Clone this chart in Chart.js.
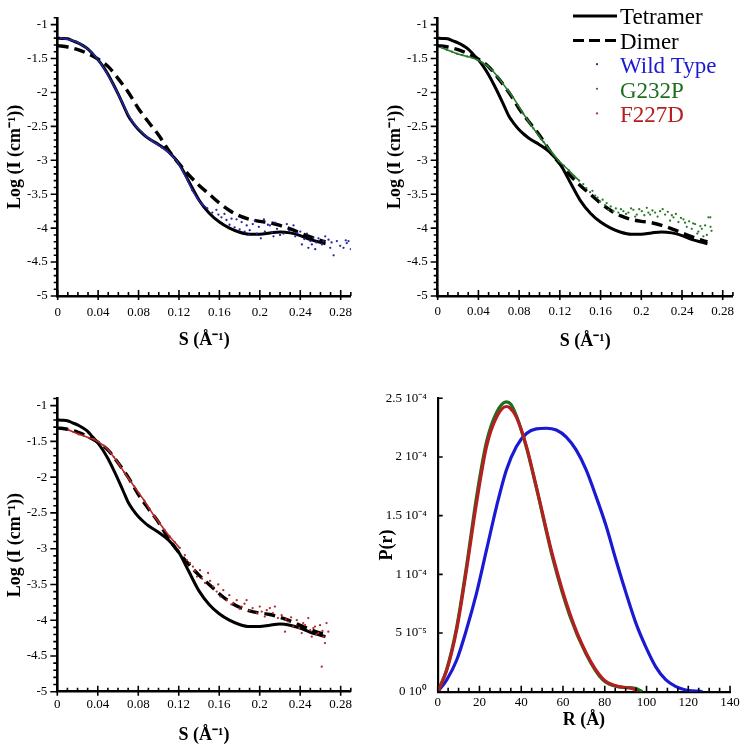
<!DOCTYPE html>
<html>
<head>
<meta charset="utf-8">
<script src="https://cdn.jsdelivr.net/npm/chart.js@4.4.1/dist/chart.umd.min.js"></script>
<style>
  body { margin: 0; background: #fff; }
  #wrap { position: relative; width: 743px; height: 746px; overflow: hidden; }
  canvas { position: absolute; }
</style>
</head>
<body>
<div id="wrap">
  <canvas id="c1" width="370" height="370" style="left:0;top:0"></canvas>
  <canvas id="c2" width="373" height="370" style="left:370px;top:0"></canvas>
  <canvas id="c3" width="370" height="376" style="left:0;top:370px"></canvas>
  <canvas id="c4" width="373" height="376" style="left:370px;top:370px"></canvas>
</div>
<script>
// model curves (log I vs s)
const tetramerS    = [0, 0.005, 0.01, 0.015, 0.02, 0.025, 0.03, 0.035, 0.04, 0.045, 0.05, 0.055, 0.06, 0.065, 0.07, 0.075, 0.08, 0.085, 0.09, 0.1, 0.11, 0.12, 0.13, 0.14, 0.15, 0.16, 0.17, 0.18, 0.19, 0.2, 0.21, 0.22, 0.23, 0.24, 0.25, 0.26, 0.265];
const tetramerLogI = [-1.2, -1.205, -1.21, -1.24, -1.27, -1.31, -1.36, -1.44, -1.52, -1.62, -1.74, -1.88, -2.03, -2.19, -2.35, -2.46, -2.55, -2.62, -2.68, -2.77, -2.88, -3.05, -3.32, -3.59, -3.78, -3.91, -4.0, -4.06, -4.09, -4.09, -4.07, -4.055, -4.07, -4.11, -4.17, -4.21, -4.23];

const dimerS    = [0, 0.01, 0.02, 0.03, 0.04, 0.05, 0.06, 0.07, 0.08, 0.09, 0.1, 0.11, 0.12, 0.13, 0.14, 0.15, 0.16, 0.17, 0.18, 0.19, 0.2, 0.21, 0.22, 0.23, 0.24, 0.25, 0.26, 0.265];
const dimerLogI = [-1.31, -1.33, -1.37, -1.43, -1.51, -1.62, -1.8, -2.0, -2.24, -2.44, -2.63, -2.86, -3.05, -3.22, -3.37, -3.5, -3.63, -3.74, -3.82, -3.87, -3.9, -3.92, -3.96, -4.01, -4.07, -4.13, -4.18, -4.2];

// measured data
const wtS = [0.003, 0.008, 0.013, 0.018, 0.023, 0.028, 0.033, 0.038, 0.043, 0.048, 0.053, 0.058, 0.063, 0.068, 0.073, 0.078, 0.083, 0.088, 0.093, 0.098, 0.103, 0.108, 0.113, 0.118, 0.123, 0.128, 0.133, 0.138, 0.143, 0.148,
  0.153, 0.157, 0.159, 0.162, 0.165, 0.167, 0.17, 0.172, 0.175, 0.177, 0.18, 0.182, 0.185, 0.187, 0.189, 0.19, 0.193, 0.195, 0.197, 0.199, 0.201, 0.204, 0.205, 0.208, 0.21, 0.212, 0.2135, 0.215, 0.217, 0.22,
  0.2234, 0.2267, 0.229, 0.2333, 0.235, 0.237, 0.24, 0.2416, 0.244, 0.2465, 0.248, 0.25, 0.2515, 0.253, 0.2548, 0.256, 0.258, 0.2614, 0.263, 0.2647, 0.268, 0.2696, 0.271, 0.273, 0.2762, 0.2795, 0.2828, 0.285, 0.286, 0.2877, 0.29];
const wtLogI = [-1.2, -1.21, -1.23, -1.25, -1.29, -1.34, -1.4, -1.48, -1.58, -1.7, -1.83, -1.97, -2.12, -2.28, -2.41, -2.51, -2.58, -2.65, -2.71, -2.76, -2.81, -2.86, -2.93, -3.01, -3.14, -3.28, -3.44, -3.56, -3.65, -3.71,
  -3.77, -3.73, -3.8, -3.84, -3.79, -3.88, -3.95, -3.86, -3.99, -3.87, -4.02, -3.91, -4.05, -3.96, -4.1, -4.03, -3.94, -3.89, -4.08, -3.98, -4.15, -3.87, -4.05, -3.95, -3.96, -4.06, -4.12, -3.92, -4.01, -4.1,
  -4.08, -3.94, -4.04, -3.96, -4.12, -4.07, -4.05, -4.24, -4.16, -4.08, -4.29, -4.19, -4.24, -4.14, -4.31, -4.21, -4.15, -4.24, -4.19, -4.12, -4.17, -4.29, -4.21, -4.4, -4.19, -4.26, -4.29, -4.18, -4.22, -4.19, -4.31];

const g232pS = [0.004, 0.009, 0.014, 0.019, 0.024, 0.029, 0.034, 0.039, 0.044, 0.049, 0.054, 0.059, 0.064, 0.069, 0.074, 0.079, 0.084, 0.089, 0.094, 0.099, 0.104, 0.109, 0.114, 0.119, 0.124, 0.129, 0.134, 0.139,
  0.143, 0.146, 0.1497, 0.152, 0.1546, 0.157, 0.1595, 0.162, 0.1644, 0.166, 0.1677, 0.17, 0.1726, 0.175, 0.1775, 0.18, 0.1824, 0.185, 0.1873, 0.19, 0.1922, 0.194, 0.1956, 0.198, 0.2005, 0.203, 0.2054, 0.207,
  0.2087, 0.211, 0.2136, 0.216, 0.2185, 0.221, 0.2234, 0.226, 0.2283, 0.23, 0.2316, 0.234, 0.2365, 0.239, 0.2414, 0.243, 0.2447, 0.247, 0.2496, 0.251, 0.2529, 0.255, 0.2561, 0.258, 0.2595, 0.261, 0.2627,
  0.2644, 0.266, 0.2678, 0.268, 0.269];
const g232pLogI = [-1.34, -1.37, -1.4, -1.43, -1.45, -1.47, -1.49, -1.52, -1.56, -1.61, -1.68, -1.77, -1.87, -1.97, -2.07, -2.19, -2.31, -2.42, -2.53, -2.63, -2.73, -2.83, -2.92, -3.01, -3.08, -3.15, -3.23, -3.3,
  -3.35, -3.41, -3.47, -3.45, -3.52, -3.55, -3.61, -3.58, -3.66, -3.63, -3.73, -3.68, -3.75, -3.71, -3.77, -3.72, -3.75, -3.79, -3.77, -3.71, -3.73, -3.83, -3.8, -3.72, -3.75, -3.81, -3.7, -3.77,
  -3.8, -3.74, -3.77, -3.83, -3.75, -3.72, -3.8, -3.76, -3.89, -3.81, -3.84, -3.79, -3.91, -3.85, -3.87, -3.92, -3.98, -3.9, -4.01, -3.93, -3.94, -4.08, -4.05, -3.97, -4.01, -4.12, -3.96,
  -4.1, -3.84, -3.84, -3.98, -4.04];

const f227dS = [0.011, 0.016, 0.021, 0.026, 0.031, 0.036, 0.041, 0.046, 0.051, 0.056, 0.061, 0.066, 0.071, 0.076, 0.081, 0.086, 0.091, 0.096, 0.101, 0.106, 0.111, 0.116, 0.121,
  0.126, 0.128, 0.131, 0.134, 0.136, 0.138, 0.141, 0.143, 0.146, 0.149, 0.151, 0.154, 0.1575, 0.159, 0.161, 0.164, 0.1674, 0.17, 0.172, 0.174, 0.1773, 0.18, 0.182, 0.185, 0.187, 0.19, 0.193, 0.197,
  0.2, 0.202, 0.205, 0.207, 0.21, 0.213, 0.215, 0.218, 0.2217, 0.225, 0.226, 0.228, 0.231, 0.233, 0.2366, 0.239, 0.2415, 0.243, 0.2448, 0.248, 0.25, 0.2514, 0.253, 0.2546, 0.256, 0.258, 0.2596,
  0.2613, 0.262, 0.263, 0.2645, 0.266, 0.2678];
const f227dLogI = [-1.34, -1.37, -1.4, -1.42, -1.45, -1.47, -1.51, -1.56, -1.63, -1.72, -1.82, -1.93, -2.03, -2.13, -2.23, -2.33, -2.44, -2.55, -2.64, -2.74, -2.83, -2.91, -2.99,
  -3.09, -3.16, -3.2, -3.25, -3.31, -3.39, -3.3, -3.42, -3.48, -3.34, -3.45, -3.53, -3.6, -3.5, -3.67, -3.58, -3.72, -3.65, -3.78, -3.76, -3.72, -3.84, -3.81, -3.77, -3.72, -3.86, -3.83, -3.9,
  -3.81, -3.88, -3.95, -3.86, -3.83, -3.9, -3.81, -3.97, -3.93, -4.16, -3.99, -4.02, -3.96, -4.09, -4.0, -4.11, -4.18, -4.04, -4.07, -3.97, -4.14, -4.23, -4.11, -4.09, -4.2, -4.18, -4.07,
  -4.65, -4.15, -4.23, -4.32, -4.04, -4.16];

// distance distributions, P(r) in units of 1e-4
const wtR   = [0, 4.3, 9.1, 13.8, 18.6, 23.4, 28.2, 32.9, 37.7, 42.5, 47.2, 52, 56.8, 61.6, 66.3, 71.1, 75.9, 80.7, 85.4, 90.2, 95, 99.7, 104.5, 109.3, 114.1, 118.8, 123.6, 126.8];
const wtPr  = [0, 0.1, 0.27, 0.53, 0.84, 1.21, 1.58, 1.89, 2.09, 2.2, 2.24, 2.245, 2.23, 2.17, 2.06, 1.89, 1.66, 1.41, 1.12, 0.84, 0.58, 0.38, 0.21, 0.1, 0.043, 0.014, 0.006, 0];
const g232pR  = [0, 4.3, 9.1, 13.8, 18.6, 23.4, 28.2, 32.9, 35, 37.7, 42.5, 47.2, 55.2, 63.2, 71.1, 79.1, 87, 91, 94, 96, 98];
const g232pPr = [0, 0.19, 0.55, 1.07, 1.66, 2.13, 2.38, 2.47, 2.45, 2.35, 2.08, 1.74, 1.13, 0.65, 0.32, 0.1, 0.04, 0.035, 0.03, 0.02, 0];
const f227dR  = [0, 4.3, 9.1, 13.8, 18.6, 23.4, 28.2, 32.9, 34.5, 37.7, 42.5, 47.2, 55.2, 63.2, 71.1, 79.1, 87, 93.4, 95.8];
const f227dPr = [0, 0.18, 0.53, 1.04, 1.61, 2.09, 2.34, 2.43, 2.42, 2.34, 2.09, 1.75, 1.15, 0.67, 0.33, 0.11, 0.043, 0.026, 0];

// ticks
const sTicks   = [0, 0.04, 0.08, 0.12, 0.16, 0.2, 0.24, 0.28];
const logTicks = [-5, -4.5, -4, -3.5, -3, -2.5, -2, -1.5, -1];
const rTicks   = [0, 20, 40, 60, 80, 100, 120, 140];
const prTicks  = [0, 0.5, 1, 1.5, 2, 2.5];
const prTickLabels = ['0 10\u2070', '5 10\u207B\u2075', '1 10\u207B\u2074', '1.5 10\u207B\u2074', '2 10\u207B\u2074', '2.5 10\u207B\u2074'];

const seriesNames = ['Tetramer', 'Dimer', 'Wild Type', 'G232P', 'F227D'];
const lineColors  = ['#000000', '#000000', '#1a1ad2', '#1f6e1f', '#b42020'];
const dotColors   = ['#000000', '#000000', '#2626a0', '#2b7a2b', '#b52a2a'];

const serif = '"Liberation Serif", "Times New Roman", serif';
const tickFont = { family: serif, size: 13 };
const titleFont = { family: serif, size: 18, weight: 'bold' };

const pts = (xs, ys) => xs.map((x, i) => ({ x: x, y: ys[i] }));
const steps = (a, b, d) => { const out = []; for (let v = a; v <= b + 1e-9; v += d) out.push(+v.toFixed(4)); return out; };

// tick marks drawn against the chart's own scales
const tickMarks = {
  id: 'tickMarks',
  afterDraw(chart, args, o) {
    const { ctx, chartArea: a, scales: { x, y } } = chart;
    ctx.save();
    ctx.strokeStyle = '#000';
    ctx.lineWidth = 1.6;
    ctx.beginPath();
    o.xMinor.forEach(v => { const p = x.getPixelForValue(v); ctx.moveTo(p, a.bottom); ctx.lineTo(p, a.bottom - 4); });
    o.xMajor.forEach(v => { const p = x.getPixelForValue(v); ctx.moveTo(p, a.bottom + o.xOut); ctx.lineTo(p, a.bottom - 6); });
    o.yMinor.forEach(v => { const p = y.getPixelForValue(v); ctx.moveTo(a.left + o.yMinorIn, p); ctx.lineTo(a.left - o.yMinorOut, p); });
    o.yMajor.forEach(v => { const p = y.getPixelForValue(v); ctx.moveTo(a.left + o.yIn, p); ctx.lineTo(a.left - o.yOut, p); });
    ctx.stroke();
    ctx.restore();
  }
};

// legend of the upper right panel
const seriesLegend = {
  id: 'seriesLegend',
  afterDraw(chart, args, o) {
    if (!o.show) return;
    const ctx = chart.ctx;
    ctx.save();
    ctx.font = '23px ' + serif;
    ctx.textBaseline = 'alphabetic';
    seriesNames.forEach((name, i) => {
      const base = o.top + i * 24.6;
      const mid = base - 8;
      ctx.strokeStyle = lineColors[i];
      if (i < 2) {
        ctx.lineWidth = 3;
        ctx.setLineDash(i === 1 ? [11, 5] : []);
        ctx.beginPath();
        ctx.moveTo(o.left, mid);
        ctx.lineTo(o.left + 44, mid);
        ctx.stroke();
        ctx.setLineDash([]);
      } else {
        ctx.fillStyle = dotColors[i];
        ctx.beginPath();
        ctx.arc(o.left + 24, mid - 1, 1.1, 0, Math.PI * 2);
        ctx.fill();
      }
      ctx.fillStyle = i < 2 ? '#000' : lineColors[i];
      ctx.fillText(name, o.left + 47, base);
    });
    ctx.restore();
  }
};

function curve(label, xs, ys, color, dash, width) {
  return { label: label, data: pts(xs, ys), showLine: true, borderColor: color, borderWidth: width, borderDash: dash,
    pointRadius: 0, cubicInterpolationMode: 'monotone', fill: false };
}

function measured(label, xs, ys, idx, brk) {
  return { label: label, data: pts(xs, ys), showLine: true, borderWidth: 1.6,
    borderColor: lineColors[idx],
    segment: { borderColor: c => (c.p1.parsed.x <= brk ? dotColors[idx] : 'rgba(0,0,0,0)') },
    pointRadius: 1.15, pointBorderWidth: 0, pointBackgroundColor: dotColors[idx] };
}

function saxsChart(id, data, g) {
  return new Chart(document.getElementById(id), {
    type: 'scatter',
    data: { datasets: data },
    options: {
      responsive: false, animation: false, events: [],
      layout: { padding: { left: 0, top: g.top, right: g.right, bottom: 0 } },
      plugins: {
        legend: { display: false }, tooltip: { enabled: false },
        tickMarks: { xMajor: sTicks, xMinor: steps(0.01, 0.29, 0.01).filter(v => !sTicks.includes(v)),
          yMajor: logTicks, yMinor: steps(-4.9, -0.9, 0.1).filter(v => !logTicks.includes(v)),
          xOut: 4, yIn: 0, yOut: 7, yMinorIn: 0, yMinorOut: 4 },
        seriesLegend: { show: !!g.legend, left: 203, top: 24 }
      },
      scales: {
        x: {
          type: 'linear', min: 0, max: 0.29,
          border: { display: true, color: '#000', width: 2.6 },
          grid: { display: false, drawTicks: false },
          afterBuildTicks: s => { s.ticks = sTicks.map(v => ({ value: v })); },
          ticks: { padding: g.xPad, color: '#000', font: tickFont, autoSkip: false, maxRotation: 0, callback: v => String(v) },
          title: { display: true, text: 'S (\u00C5\u207B\u00B9)', color: '#000', font: titleFont, padding: { top: 0, bottom: g.xTitle } },
          afterFit: s => { s.height = g.h - g.bottom; }
        },
        y: {
          type: 'linear', min: -5, max: -0.9,
          border: { display: true, color: '#000', width: 2.6 },
          grid: { display: false, drawTicks: false },
          afterBuildTicks: s => { s.ticks = logTicks.map(v => ({ value: v })); },
          ticks: { padding: 10, color: '#000', font: tickFont, autoSkip: false, callback: v => String(v) },
          title: { display: true, text: 'Log (I (cm\u207B\u00B9))', color: '#000', font: titleFont, padding: { top: g.yTitle, bottom: 0 } },
          afterFit: s => { s.width = g.left; }
        }
      }
    },
    plugins: [tickMarks, seriesLegend]
  });
}

saxsChart('c1', [
  measured('Wild Type', wtS, wtLogI, 2, 0.149),
  curve('Tetramer', tetramerS, tetramerLogI, '#000', [], 3),
  curve('Dimer', dimerS, dimerLogI, '#000', [11, 6], 3.4)
], { h: 370, top: 2.9, right: 19.2, left: 57.7, bottom: 296, xPad: 9.2, xTitle: 19, yTitle: 4.2 });

saxsChart('c2', [
  measured('G232P', g232pS, g232pLogI, 3, 0.14),
  curve('Tetramer', tetramerS, tetramerLogI, '#000', [], 3),
  curve('Dimer', dimerS, dimerLogI, '#000', [11, 6], 3.4)
], { h: 370, top: 2.9, right: 10.1, left: 67.7, bottom: 296, xPad: 7.9, xTitle: 17.5, yTitle: 14.2, legend: true });

saxsChart('c3', [
  measured('F227D', f227dS, f227dLogI, 4, 0.122),
  curve('Tetramer', tetramerS, tetramerLogI, '#000', [], 3),
  curve('Dimer', dimerS, dimerLogI, '#000', [11, 6], 3.4)
], { h: 376, top: 28.5, right: 19.2, left: 57.3, bottom: 321.7, xPad: 5.5, xTitle: 0.2, yTitle: 4.2 });

new Chart(document.getElementById('c4'), {
  type: 'scatter',
  data: {
    datasets: [
      { label: 'F227D', data: pts(f227dR, f227dPr) },
      { label: 'G232P', data: pts(g232pR, g232pPr) },
      { label: 'Wild Type', data: pts(wtR, wtPr) }
    ].map(d => {
      const i = seriesNames.indexOf(d.label);
      return Object.assign(d, { showLine: true, borderColor: lineColors[i], borderWidth: 3.2, pointRadius: 0, cubicInterpolationMode: 'monotone' });
    })
  },
  options: {
    responsive: false, animation: false, events: [],
    layout: { padding: { left: 0, top: 28.3, right: 12, bottom: 0 } },
    plugins: {
      legend: { display: false }, tooltip: { enabled: false },
      tickMarks: { xMajor: rTicks, xMinor: steps(5, 135, 5).filter(v => !rTicks.includes(v)),
        yMajor: prTicks, yMinor: [], xOut: 0, yIn: 5, yOut: 0, yMinorIn: 0, yMinorOut: 0 }
    },
    scales: {
      x: {
        type: 'linear', min: 0, max: 140,
        border: { display: true, color: '#000', width: 2.2 },
        grid: { display: false, drawTicks: false },
        afterBuildTicks: s => { s.ticks = rTicks.map(v => ({ value: v })); },
        ticks: { padding: 3.2, color: '#000', font: tickFont, autoSkip: false, maxRotation: 0, callback: v => String(v) },
        title: { display: true, text: 'R (\u00C5)', color: '#000', font: titleFont, padding: { top: 0, bottom: 15.2 } },
        afterFit: s => { s.height = 376 - 321.7; }
      },
      y: {
        type: 'linear', min: 0, max: 2.5,
        border: { display: true, color: '#000', width: 2.2 },
        grid: { display: false, drawTicks: false },
        afterBuildTicks: s => { s.ticks = prTicks.map(v => ({ value: v })); },
        ticks: { padding: 11, color: '#000', font: tickFont, autoSkip: false, callback: (v, i) => prTickLabels[i] },
        title: { display: true, text: 'P(r)', color: '#000', font: titleFont, padding: { top: 6.2, bottom: 0 } },
        afterFit: s => { s.width = 67.7; }
      }
    }
  },
  plugins: [tickMarks]
});
</script>
</body>
</html>
